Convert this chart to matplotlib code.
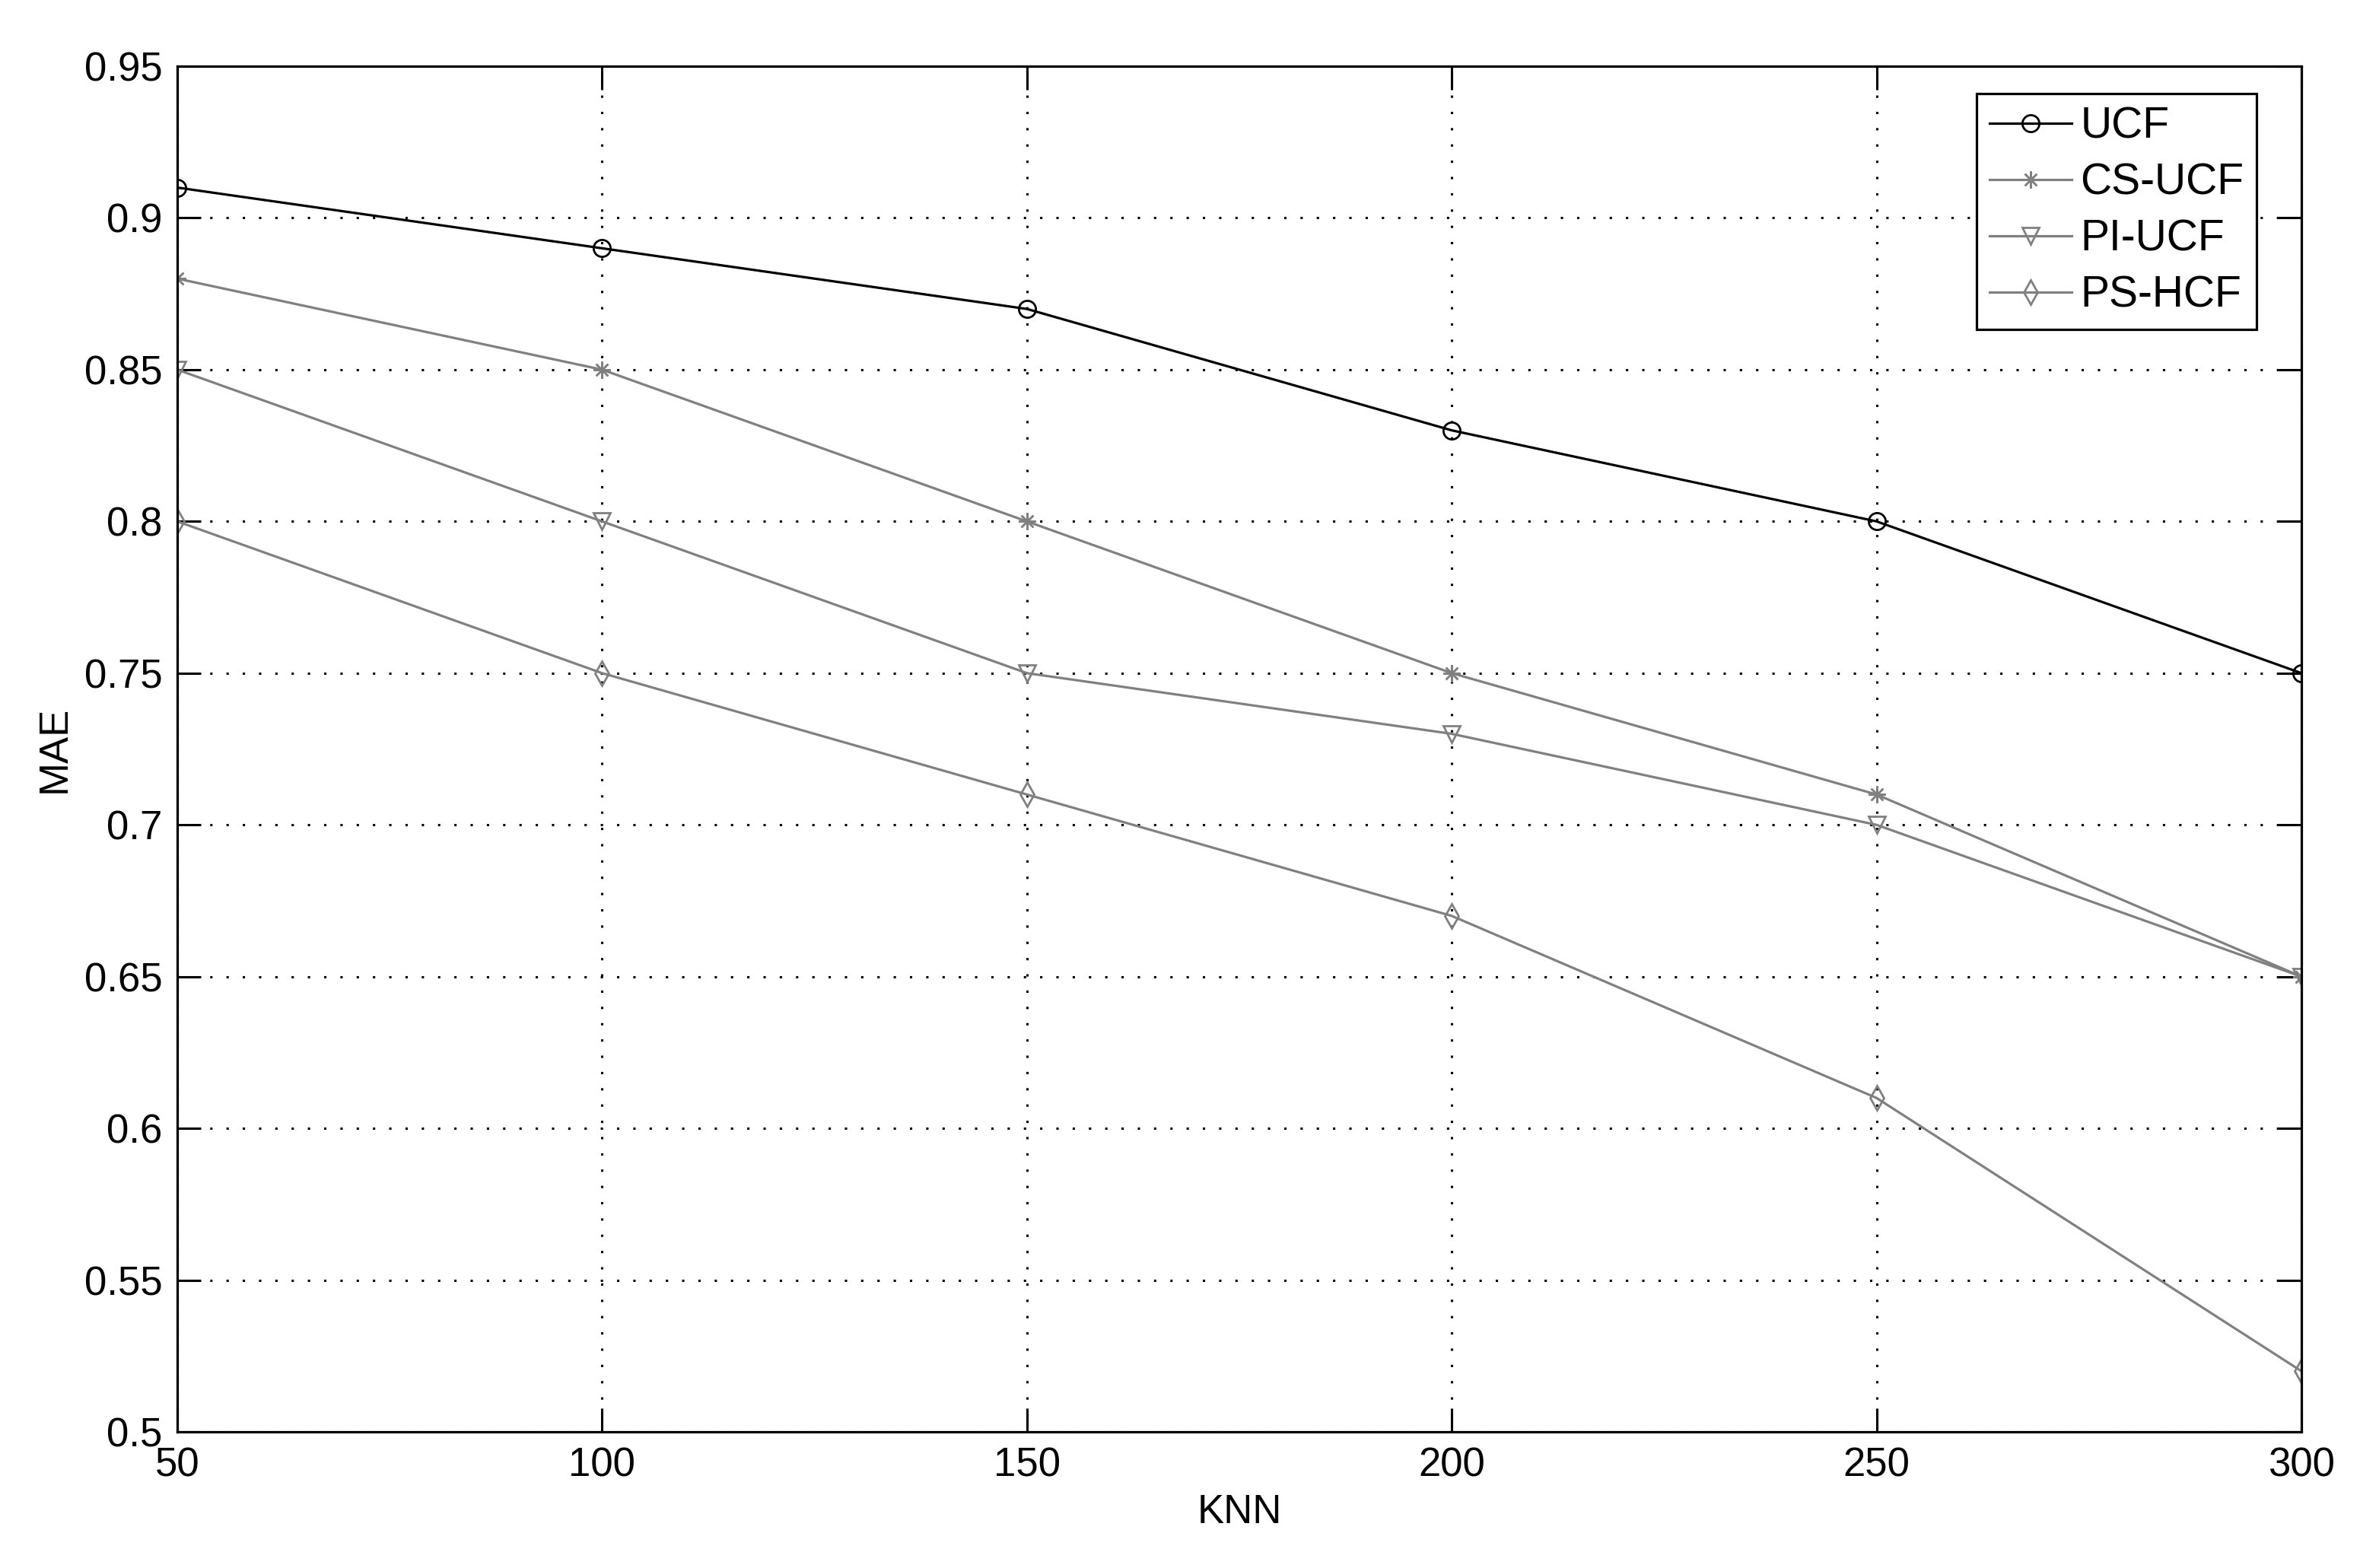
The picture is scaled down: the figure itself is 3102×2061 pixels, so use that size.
import matplotlib
matplotlib.use("Agg")
import matplotlib.pyplot as plt

# data
knn = [50, 100, 150, 200, 250, 300]
ucf = [0.91, 0.89, 0.87, 0.83, 0.80, 0.75]
cs_ucf = [0.88, 0.85, 0.80, 0.75, 0.71, 0.65]
pi_ucf = [0.85, 0.80, 0.75, 0.73, 0.70, 0.65]
ps_hcf = [0.80, 0.75, 0.71, 0.67, 0.61, 0.52]
yticks = [0.5, 0.55, 0.6, 0.65, 0.7, 0.75, 0.8, 0.85, 0.9, 0.95]

plt.rcParams['font.family'] = ['Liberation Sans', 'DejaVu Sans']

fig = plt.figure(figsize=(31.02, 20.61), dpi=100)
ax = fig.add_axes([233 / 3102, 1 - 1882 / 2061, (3025 - 233) / 3102, (1882 - 87) / 2061])

gray = '#808080'
lw = 2.3
ms = 16
ax.plot(knn, ucf, color='black', marker='o', mfc='none', mec='black', mew=2, ms=ms, lw=lw, label='UCF')
ax.plot(knn, cs_ucf, color=gray, marker=(8, 2, 0), mec=gray, mew=1.8, ms=ms, lw=lw, label='CS-UCF')
ax.plot(knn, pi_ucf, color=gray, marker='v', mfc='none', mec=gray, mew=2, ms=ms, lw=lw, label='PI-UCF')
ax.plot(knn, ps_hcf, color=gray, marker='d', mfc='none', mec=gray, mew=2, ms=ms, lw=lw, label='PS-HCF')

ax.set_xlim(50, 300)
ax.set_ylim(0.5, 0.95)
ax.set_xticks(knn)
ax.set_yticks(yticks)
ax.set_yticklabels([f'{v:g}' for v in yticks])
ax.grid(True, color='black', linestyle=(0, (1, 6)), linewidth=2.2)
ax.tick_params(direction='in', length=22, width=2.2, labelsize=38, pad=14,
               top=True, right=True)
for sp in ax.spines.values():
    sp.set_linewidth(2.3)

ax.set_xlabel('KNN', fontsize=38, labelpad=8)
ax.set_ylabel('MAE', fontsize=38, labelpad=10)

leg = ax.legend(loc='upper right', bbox_to_anchor=(0.979, 0.98), fontsize=41,
                fancybox=False, framealpha=1, edgecolor='black',
                handlelength=1.9, handletextpad=0.2, borderpad=0.3, labelspacing=0.35,
                borderaxespad=0)
leg.get_frame().set_linewidth(2.3)

fig.savefig('out.png', dpi=100)
